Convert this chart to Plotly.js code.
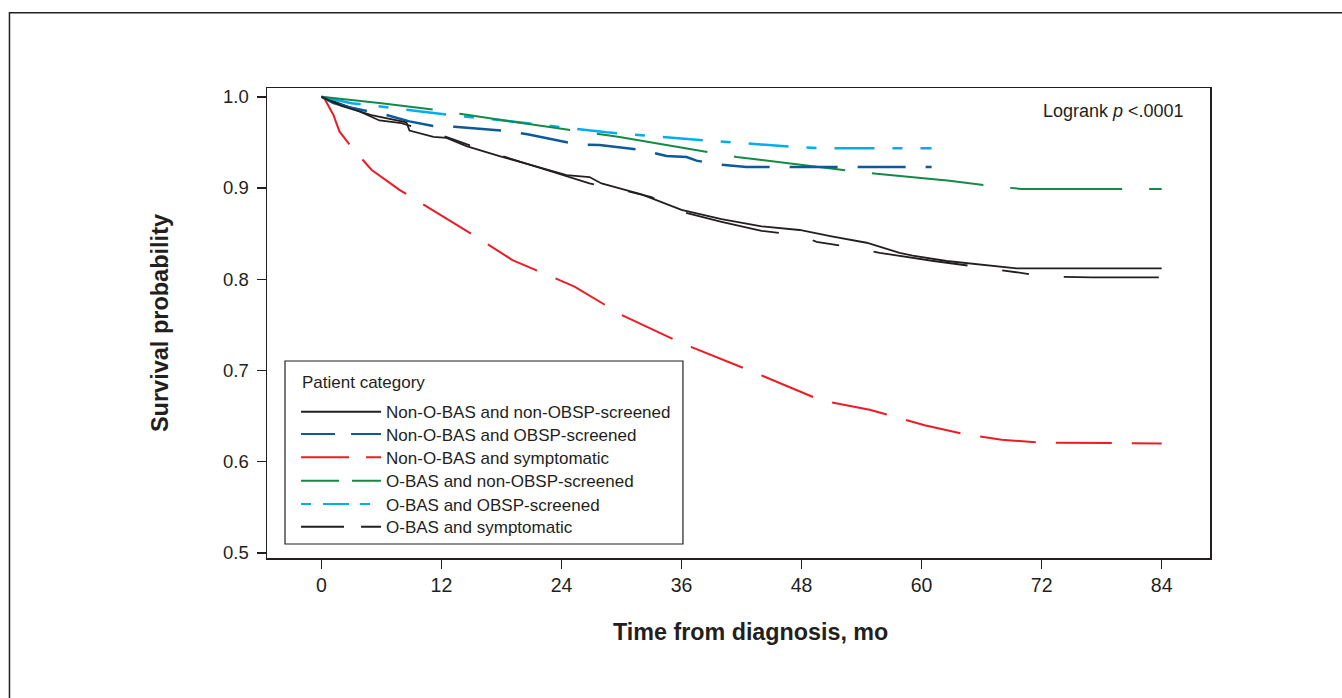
<!DOCTYPE html>
<html>
<head>
<meta charset="utf-8">
<script src="https://cdn.plot.ly/plotly-3.0.1.min.js"></script>
<style>
  html, body { margin: 0; padding: 0; background: #ffffff; }
  #chart { width: 1342px; height: 698px; }
</style>
</head>
<body>
<div id="chart"></div>
<script>
// ---- Data ----
const seriesNames = [
  "Non-O-BAS and non-OBSP-screened",
  "Non-O-BAS and OBSP-screened",
  "Non-O-BAS and symptomatic",
  "O-BAS and non-OBSP-screened",
  "O-BAS and OBSP-screened",
  "O-BAS and symptomatic"
];

// Non-O-BAS and non-OBSP-screened (black solid)
const nonObasNonScreenT = [0, 2, 5, 8.5, 8.8, 11.2, 12.5, 14.5, 17.8, 21.2, 24.5, 26.8, 28, 30, 32, 36, 40, 44, 47.8, 51, 54.5, 57.8, 59.1, 62.5, 66, 69.5, 84];
const nonObasNonScreenS = [1.0, 0.99, 0.98, 0.972, 0.963, 0.956, 0.955, 0.946, 0.935, 0.924, 0.914, 0.912, 0.905, 0.899, 0.893, 0.876, 0.866, 0.858, 0.854, 0.847, 0.84, 0.829, 0.826, 0.82, 0.816, 0.812, 0.812];

// Non-O-BAS and OBSP-screened (dark blue)
const nonObasScreenT = [0, 1.2, 3, 6.5, 8.8, 11.2, 13.3, 18.5, 20.6, 25.5, 27.8, 31.8, 32.8, 34.5, 36.5, 37.5, 39.5, 42.5, 61];
const nonObasScreenS = [1.0, 0.993, 0.988, 0.98, 0.973, 0.968, 0.967, 0.9625, 0.959, 0.948, 0.947, 0.942, 0.9395, 0.935, 0.934, 0.93, 0.926, 0.923, 0.923];

// Non-O-BAS and symptomatic (red)
const nonObasSymptT = [0, 0.3, 1.2, 1.8, 3, 5, 7.8, 11.8, 15.1, 19.1, 25.3, 30, 36, 42.8, 50, 54.8, 60.3, 64, 68, 72, 84];
const nonObasSymptS = [1.0, 0.998, 0.98, 0.962, 0.945, 0.92, 0.898, 0.871, 0.849, 0.821, 0.792, 0.761, 0.73, 0.70, 0.667, 0.657, 0.64, 0.631, 0.624, 0.621, 0.62];

// O-BAS and non-OBSP-screened (green)
const obasNonScreenT = [0, 6, 11.5, 14, 25.2, 29.8, 38.8, 41.5, 52.8, 55.5, 62.8, 67, 70, 84];
const obasNonScreenS = [1.0, 0.993, 0.9855, 0.981, 0.963, 0.956, 0.939, 0.934, 0.919, 0.9155, 0.908, 0.902, 0.899, 0.899];

// O-BAS and OBSP-screened (light blue)
const obasScreenT = [0, 3, 6.1, 9.1, 11.8, 14.5, 17.8, 26.1, 28.5, 32.8, 38.5, 47.8, 49.8, 61];
const obasScreenS = [1.0, 0.993, 0.989, 0.985, 0.981, 0.978, 0.9746, 0.9636, 0.961, 0.957, 0.952, 0.9447, 0.9436, 0.9436];

// O-BAS and symptomatic (black dashed)
const obasSymptT = [0, 3, 5.8, 8, 12, 14.5, 17.8, 21.2, 24.5, 26.8, 30, 33, 36, 40, 44, 48, 49.5, 51.8, 55.8, 61.2, 66, 69.8, 72.5, 77, 84];
const obasSymptS = [1.0, 0.988, 0.974, 0.971, 0.958, 0.948, 0.936, 0.924, 0.913, 0.905, 0.898, 0.89, 0.874, 0.863, 0.853, 0.848, 0.841, 0.837, 0.829, 0.82, 0.813, 0.807, 0.803, 0.802, 0.802];

const xTickVals = [0, 12, 24, 36, 48, 60, 72, 84];
const yTickVals = [0.5, 0.6, 0.7, 0.8, 0.9, 1.0];
const xTitle = "Time from diagnosis, mo";
const yTitle = "Survival probability";
const legendTitle = "Patient category";
const pValueText = "Logrank <i>p</i> <.0001";

// ---- Styles / positions ----
const FONT = '"Liberation Sans", Arial, Helvetica, sans-serif';
const INK = '#231f20';
const LEGEND_FONT = 17;
const styles = [
  { color: '#231f20', width: 1.8, dash: 'solid',                    legendDash: 'solid' },
  { color: '#0b5a9a', width: 2.5, dash: '48px,20px',                legendDash: '34px,16px' },
  { color: '#ed1c24', width: 2.0, dash: '56px,20px',                legendDash: '48px,17px' },
  { color: '#138a45', width: 2.0, dash: '112px,27px',               legendDash: '38px,13px' },
  { color: '#00aeef', width: 2.5, dash: '40px,18px,10px,18px',      legendDash: '10px,12px,26px,11px' },
  { color: '#231f20', width: 1.8, dash: '95px,35px,27px,35px',      legendDash: '43px,17px' }
];
// vertical paper positions (top) of each legend row
const legendRowTops = [0.3486, 0.3012, 0.2516, 0.2018, 0.1522, 0.1039];

const seriesT = [nonObasNonScreenT, nonObasScreenT, nonObasSymptT, obasNonScreenT, obasScreenT, obasSymptT];
const seriesS = [nonObasNonScreenS, nonObasScreenS, nonObasSymptS, obasNonScreenS, obasScreenS, obasSymptS];

const traces = [];
// data curves (drawn in reverse so the black solid curve sits on top)
for (let i = seriesNames.length - 1; i >= 0; i--) {
  traces.push({
    type: 'scatter', mode: 'lines',
    x: seriesT[i], y: seriesS[i],
    name: seriesNames[i],
    showlegend: false,
    hoverinfo: 'x+y+name',
    line: { color: styles[i].color, width: styles[i].width, dash: styles[i].dash, shape: 'linear' }
  });
}

const layout = {
  width: 1342, height: 698,
  margin: { l: 267, r: 132, t: 88, b: 140 },
  paper_bgcolor: '#ffffff',
  plot_bgcolor: '#ffffff',
  font: { family: FONT, color: INK, size: 16 },
  showlegend: true,
  xaxis: {
    range: [-5.44, 88.83],
    tickmode: 'array', tickvals: xTickVals, ticktext: xTickVals.map(String),
    ticks: 'outside', ticklen: 9, tickwidth: 1.5, tickcolor: INK,
    showline: true, linecolor: INK, linewidth: 1.5, mirror: true,
    showgrid: false, zeroline: false,
    tickfont: { family: FONT, size: 19.5, color: INK }
  },
  yaxis: {
    range: [0.4945, 1.0096],
    tickmode: 'array', tickvals: yTickVals, ticktext: yTickVals.map(v => v.toFixed(1)),
    ticks: 'outside', ticklen: 9, tickwidth: 1.5, tickcolor: INK,
    ticklabelstandoff: 4,
    showline: true, linecolor: INK, linewidth: 1.5, mirror: true,
    showgrid: false, zeroline: false,
    tickfont: { family: FONT, size: 18.5, color: INK },
    title: { text: yTitle, font: { family: FONT, size: 23.5, color: INK, weight: 'bold' }, standoff: 48 }
  },
  annotations: [
    {
      xref: 'paper', yref: 'paper', x: 1, y: 1,
      xanchor: 'right', yanchor: 'top', xshift: -24, yshift: -11,
      text: pValueText, showarrow: false,
      font: { family: FONT, size: 18, color: INK }
    },
    {
      xref: 'paper', yref: 'paper', x: 0.035, y: 0.373,
      xanchor: 'left', yanchor: 'middle',
      text: legendTitle, showarrow: false,
      font: { family: FONT, size: LEGEND_FONT, color: INK }
    },
    {
      xref: 'paper', yref: 'paper', x: 0.5122, y: -0.1574,
      xanchor: 'center', yanchor: 'middle',
      text: xTitle, showarrow: false,
      font: { family: FONT, size: 23.3, color: INK, weight: 'bold' }
    }
  ],
  shapes: [
    {
      type: 'rect', xref: 'paper', yref: 'paper',
      x0: -0.2731, x1: 1.6, y0: -0.6, y1: 1.1602,
      line: { color: INK, width: 1.5 }, fillcolor: 'rgba(0,0,0,0)', layer: 'below'
    },
    {
      type: 'rect', xref: 'paper', yref: 'paper',
      x0: 0.0191, x1: 0.4411, y0: 0.0298, y1: 0.4191,
      line: { color: INK, width: 1.2 }, fillcolor: '#ffffff', layer: 'above'
    }
  ]
};

// legend entries: one small legend per row so each row sits where the reference puts it
for (let i = 0; i < seriesNames.length; i++) {
  const legendId = i === 0 ? 'legend' : 'legend' + (i + 1);
  traces.push({
    type: 'scatter', mode: 'lines',
    x: [null], y: [null],
    name: seriesNames[i],
    showlegend: true,
    legend: legendId,
    hoverinfo: 'skip',
    line: { color: styles[i].color, width: 2, dash: styles[i].legendDash }
  });
  layout[legendId] = {
    x: 0.0308, y: legendRowTops[i], xanchor: 'left', yanchor: 'top',
    bgcolor: 'rgba(0,0,0,0)', borderwidth: 0,
    font: { family: FONT, size: LEGEND_FONT, color: INK },
    itemwidth: 80
  };
}

Plotly.newPlot('chart', traces, layout, { displayModeBar: false, staticPlot: true });
</script>
</body>
</html>
